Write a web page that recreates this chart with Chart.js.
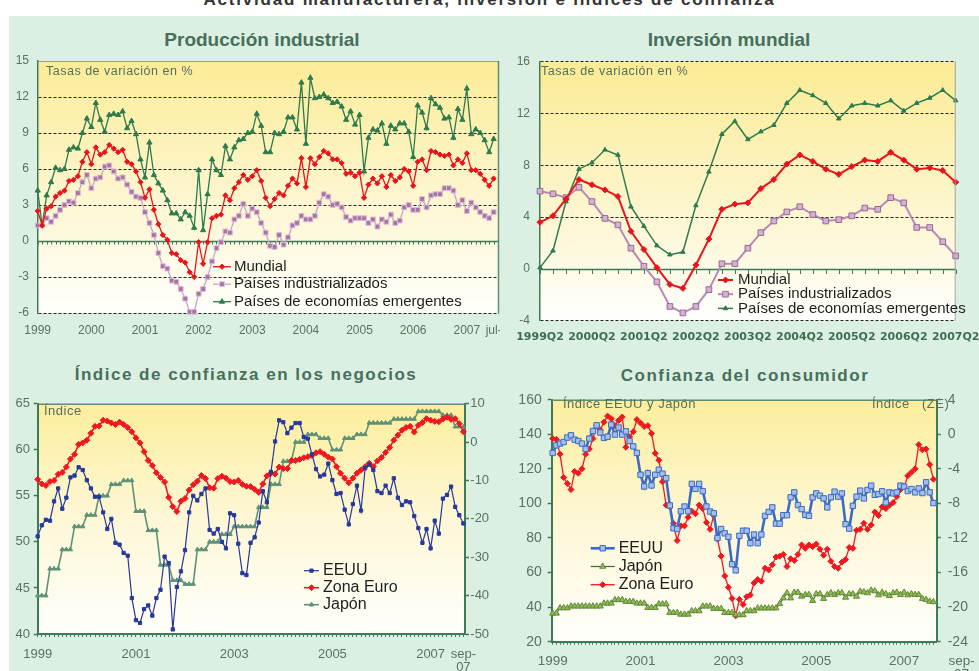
<!DOCTYPE html>
<html lang="es">
<head>
<meta charset="utf-8">
<title>Actividad manufacturera, inversión e índices de confianza</title>
<script src="https://cdn.jsdelivr.net/npm/chart.js@4.4.1/dist/chart.umd.min.js"></script>
<style>
  html, body { margin: 0; padding: 0; background: #fff; }
  #page { position: relative; width: 979px; height: 671px; overflow: hidden; background: #fff; font-family: "Liberation Sans", Arial, sans-serif; }
  #band { position: absolute; left: 9px; top: 16px; width: 970px; height: 655px; background: #dcefe3; }
  canvas { position: absolute; }
  .txt { position: absolute; white-space: pre; }
  .main { top: -9px; left: 0; width: 979px; text-align: center; font: bold 17px/17px "Liberation Sans", Arial, sans-serif; letter-spacing: 1.8px; color: #333; }
  .ttl { color: #46705a; font-weight: bold; transform: translateX(-50%); }
  .top { top: 30px; font: bold 19px/20px "Liberation Sans", Arial, sans-serif; }
  .bot { font: bold 17px/20px "Liberation Sans", Arial, sans-serif; letter-spacing: 1.5px; }
  .note { color: #55705f; font-size: 12.5px; line-height: 14px; letter-spacing: 0.5px; }
</style>
</head>
<body>
<div id="page">
  <div id="band"></div>
  <div class="txt main">Actividad manufacturera, inversión e índices de confianza</div>
  <div class="txt ttl top" style="left:262px">Producción industrial</div>
  <div class="txt ttl top" style="left:729px">Inversión mundial</div>
  <div class="txt ttl bot" style="left:246px;top:365px">Índice de confianza en los negocios</div>
  <div class="txt ttl bot" style="left:745px;top:366px">Confianza del consumidor</div>

  <canvas id="c1" width="500" height="290" style="left:0;top:55px"></canvas>
  <canvas id="c2" width="479" height="290" style="left:500px;top:55px"></canvas>
  <canvas id="c3" width="500" height="276" style="left:0;top:395px"></canvas>
  <canvas id="c4" width="479" height="282" style="left:500px;top:392px"></canvas>

  <div class="txt note" style="left:46px;top:64px">Tasas de variación en %</div>
  <div class="txt note" style="left:541px;top:64px">Tasas de variación en %</div>
  <div class="txt note" style="left:44px;top:404px;font-size:13px">Índice</div>
  <div class="txt note" style="left:563px;top:397px;font-size:13px">Índice EEUU y Japón</div>
  <div class="txt note" style="left:872px;top:397px;font-size:13px">Índice   (ZE)</div>
</div>
<script>
// ---- Producción industrial (mensual, ene-1999 .. jul-2007) ----
const prodMundial = [2.5,1.3,2.7,2.9,3.7,4.0,4.2,5.0,5.1,5.4,6.6,7.4,
  6.4,7.8,7.2,7.4,8.0,7.7,7.4,7.6,6.6,6.4,5.8,4.9,
  3.6,4.3,2.6,1.4,0.5,0.1,-1.0,-1.1,-1.6,-1.8,-2.6,-3.0,
  -0.1,-1.9,-0.1,1.9,2.1,2.2,3.8,3.4,4.4,4.9,5.5,5.1,
  5.4,5.9,5.0,3.6,2.9,3.5,4.0,3.8,4.6,5.2,4.8,6.9,
  4.5,6.9,6.4,7.0,7.5,7.3,6.8,6.8,6.5,5.6,5.7,5.4,
  5.7,3.6,4.7,5.2,4.8,5.4,4.5,5.5,5.0,5.3,6.0,5.8,
  4.6,6.6,6.8,5.9,7.5,7.4,7.2,7.1,7.2,6.3,6.8,6.5,
  7.3,5.9,5.9,5.6,5.1,4.6,5.2];
const prodIndust = [1.3,1.3,1.9,1.6,2.1,2.6,3.0,3.3,3.2,4.0,4.9,5.5,
  4.4,5.2,5.3,6.2,6.3,5.8,5.2,5.3,4.7,4.1,3.7,3.6,
  2.4,1.5,0.5,-1.0,-2.1,-2.3,-3.3,-3.4,-4.0,-4.8,-5.9,-5.9,
  -4.4,-4.0,-3.0,-1.7,-0.6,-0.1,0.8,0.7,1.8,2.1,3.1,2.1,
  2.7,2.4,1.5,0.7,-0.4,-0.5,0.5,-0.3,0.3,1.3,1.5,2.1,
  1.8,1.8,2.1,3.2,3.9,3.7,3.0,3.1,2.8,2.0,1.7,1.9,
  1.9,1.9,1.5,1.8,1.2,1.8,1.6,2.2,1.5,1.7,2.8,3.0,
  2.6,2.6,3.5,2.8,3.8,3.9,3.9,4.4,4.4,4.2,3.0,3.4,
  2.5,3.2,2.8,2.4,2.1,1.9,2.4];
const prodEmerg = [4.2,1.3,3.8,4.9,6.1,5.9,6.0,7.6,7.8,7.7,9.0,10.2,
  9.5,11.5,10.1,9.1,10.5,10.6,10.5,10.8,9.4,10.0,8.9,6.8,
  5.3,8.2,5.5,4.8,4.2,3.4,2.3,2.3,1.8,2.4,2.1,1.1,
  5.9,0.9,3.9,6.8,5.9,5.5,7.9,6.8,7.8,8.4,8.5,9.0,
  9.1,10.6,9.6,7.4,7.4,9.0,8.9,9.1,10.3,10.3,9.3,13.2,
  8.1,13.6,11.9,12.0,12.2,11.9,11.5,11.6,11.2,10.1,10.8,9.7,
  10.5,5.8,8.6,9.3,9.2,9.8,8.1,9.6,9.3,9.8,9.8,9.1,
  7.0,11.3,10.7,9.4,11.9,11.4,11.1,10.2,10.3,8.6,11.0,10.1,
  12.7,8.9,9.3,9.0,8.4,7.4,8.5];
const prodXTicks = [0,12,24,36,48,60,72,84,96,102];
const prodXLabels = ['1999','2000','2001','2002','2003','2004','2005','2006','2007','jul-'];
const prodYTicks = [-6,-3,0,3,6,9,12,15];

// ---- Inversión mundial (trimestral, 1999Q2 .. 2007Q2) ----
const invMundial = [3.6,4.1,5.4,6.9,6.5,6.1,5.6,2.9,1.5,0.1,-1.2,-1.5,0.3,2.3,4.6,5.0,5.1,6.2,6.9,8.1,8.8,8.3,7.7,7.3,7.9,8.4,8.3,9.0,8.4,7.7,7.8,7.6,6.7];
const invIndust = [6.0,5.8,5.5,6.3,5.2,3.9,3.4,1.6,0.2,-1.0,-2.9,-3.4,-2.9,-1.6,0.4,0.4,1.6,2.8,3.7,4.4,4.8,4.2,3.7,3.8,4.1,4.7,4.6,5.5,5.1,3.2,3.2,2.1,1.0];
const invEmerg = [0.1,1.4,5.2,7.7,8.2,9.2,8.8,4.8,3.3,1.8,1.1,1.3,4.9,7.5,10.4,11.4,10.0,10.6,11.1,12.8,13.8,13.4,12.8,11.6,12.6,12.8,12.6,13.0,12.2,12.8,13.2,13.8,13.0];
const invXTicks = [0,4,8,12,16,20,24,28,32];
const invXLabels = ['1999Q2','2000Q2','2001Q2','2002Q2','2003Q2','2004Q2','2005Q2','2006Q2','2007Q2'];
const invYTicks = [-4,0,4,8,12,16];

// ---- Confianza en los negocios (mensual, ene-1999 .. sep-2007) ----
const negEEUU = [50.6,51.8,52.4,52.3,54.4,55.8,53.6,54.8,57.0,57.2,58.1,57.8,
  56.7,55.8,54.9,54.9,53.2,51.4,52.5,49.9,49.7,48.8,48.5,43.9,
  41.5,41.2,42.7,43.1,42.0,43.9,44.8,48.4,47.7,40.5,45.1,46.8,
  49.1,53.2,55.0,54.5,55.2,55.8,51.3,50.9,51.4,50.0,49.3,53.1,
  52.9,49.8,46.6,46.4,49.9,50.5,52.1,55.5,54.3,57.6,60.9,63.2,
  63.0,61.8,62.4,62.9,62.9,61.4,61.2,59.5,57.9,57.1,57.3,58.5,
  56.7,55.2,55.3,53.5,51.9,54.1,56.1,53.4,58.0,58.4,57.8,55.5,
  55.3,56.1,55.3,56.9,54.8,54.0,54.4,54.3,52.8,51.5,49.9,51.4,
  49.3,52.3,50.9,54.7,55.1,56.0,53.8,52.9,52.0];
const negEuro = [-9.7,-10.9,-11.3,-10.3,-10.0,-8.4,-7.9,-6.5,-4.4,-3.2,-0.6,-0.2,
  0.5,2.3,4.1,4.2,5.7,5.5,5.0,4.6,5.2,4.6,3.8,2.7,
  1.1,-0.2,-2.5,-4.8,-6.1,-8.0,-9.2,-10.4,-14.4,-16.8,-18.1,-15.4,
  -14.7,-12.5,-11.1,-10.2,-8.7,-9.5,-11.9,-12.0,-9.5,-8.9,-9.4,-10.3,
  -10.4,-10.0,-11.0,-11.5,-11.6,-12.3,-13.1,-10.9,-8.8,-8.1,-8.3,-6.5,
  -6.9,-6.9,-4.8,-4.8,-4.5,-4.1,-3.8,-3.5,-2.8,-2.5,-3.2,-3.9,
  -4.4,-6.4,-8.1,-9.4,-10.6,-9.4,-8.1,-7.3,-6.4,-5.5,-6.4,-4.9,
  -4.0,-2.7,-1.4,0.5,1.8,3.1,3.8,4.1,2.6,4.4,5.1,6.1,
  5.7,5.4,5.3,6.0,6.5,5.9,6.1,4.8,2.7];
const negJapon = [-40,-40,-40,-33,-33,-33,-28,-28,-28,-22,-22,-22,
  -19,-19,-19,-14,-14,-14,-11,-11,-11,-10,-10,-10,
  -18,-18,-18,-23,-23,-23,-32,-32,-32,-36,-36,-36,
  -37,-37,-37,-28,-28,-28,-26,-26,-26,-24,-24,-24,
  -22,-22,-22,-22,-22,-22,-17,-17,-17,-11,-11,-11,
  -5,-5,-5,0,0,0,2,2,2,1,1,1,
  -2,-2,-2,1,1,1,2,2,2,5,5,5,
  5,5,5,6,6,6,6,6,6,8,8,8,
  8,8,8,7,7,7,4,4,4];
const negXTicks = [0,24,48,72,96,104];
const negXLabels = ['1999','2001','2003','2005','2007',['sep-','07']];
const negYTicks = [40,45,50,55,60,65];
const negY2Ticks = [-50,-40,-30,-20,-10,0,10];

// ---- Confianza del consumidor (mensual, ene-1999 .. sep-2007) ----
const consEEUU = [129.2,133.6,134.6,135.5,138.1,139.4,136.9,136.1,134.6,131.5,137.5,141.9,
  145.2,141.0,137.9,138.6,145.6,139.8,143.9,139.8,141.7,136.1,133.0,129.2,
  116.6,109.8,117.5,110.4,116.6,119.5,117.2,114.6,98.8,85.6,85.2,95.5,
  98.2,95.5,111.3,108.4,111.3,107.1,98.2,95.3,94.3,80.0,85.2,82.7,
  80.7,64.8,61.3,81.3,84.2,84.2,77.0,82.0,77.0,82.0,92.8,95.1,
  97.7,88.3,88.3,93.2,93.2,103.5,106.4,99.0,96.7,93.4,92.8,103.5,
  105.8,104.5,102.9,97.7,103.5,106.8,103.9,105.8,88.0,85.4,98.6,103.9,
  107.4,102.9,107.8,110.3,105.0,105.4,107.0,100.6,106.4,105.8,106.4,110.3,
  109.7,107.2,108.3,106.4,108.7,106.0,112.2,106.4,100.2];
const consJapon = [36.4,36.4,39.5,39.5,39.5,40.5,40.5,40.5,40.5,40.5,40.5,40.5,
  40.5,40.5,42.2,42.2,42.2,44.2,44.2,44.2,43.2,43.2,43.2,42.2,
  42.2,42.2,39.7,39.7,39.7,41.8,41.8,41.8,36.8,36.8,36.8,35.8,
  35.8,35.8,37.8,37.8,37.8,40.5,40.5,40.5,39.1,39.1,39.1,36.8,
  36.8,36.8,35.5,35.5,35.5,37.8,37.8,37.8,39.4,39.4,39.4,39.4,
  39.4,39.4,41.9,45.2,48.2,45.2,48.5,48.5,46.2,47.2,47.2,43.7,
  47.6,47.6,44.9,47.2,48.2,47.2,48.2,48.2,45.6,47.6,47.6,46.2,
  49.1,48.7,48.2,49.7,49.3,47.0,48.5,47.6,46.6,48.2,48.5,47.2,
  48.5,47.0,47.6,47.2,47.2,44.9,44.3,43.3,43.0];
const consEuro = [-0.5,-0.6,-2.3,-5.0,-5.7,-6.4,-4.3,-4.5,-4.0,-2.3,-1.7,-0.5,
  1.0,0.5,1.4,2.1,1.8,1.0,1.6,2.0,-1.5,-0.3,0.3,1.7,
  1.3,0.9,1.0,0.1,-2.2,-3.0,-5.5,-8.2,-8.4,-10.3,-12.3,-10.6,
  -10.6,-9.6,-8.9,-9.2,-8.2,-8.6,-10.2,-11.0,-9.4,-12.1,-14.1,-16.4,
  -17.7,-19.0,-21.0,-19.1,-19.7,-18.8,-18.6,-17.2,-16.8,-17.0,-15.5,-15.7,
  -15.1,-14.2,-14.1,-13.9,-15.3,-14.4,-14.6,-13.9,-12.8,-13.2,-12.8,-13.0,
  -12.7,-13.3,-14.0,-13.3,-14.7,-15.3,-15.5,-14.8,-14.5,-13.1,-13.2,-11.1,
  -11.0,-10.3,-11.0,-10.5,-9.0,-9.4,-8.4,-8.6,-8.2,-7.9,-7.2,-6.4,
  -6.1,-4.8,-4.4,-4.0,-1.2,-1.8,-1.7,-3.5,-5.2];
const consXTicks = [0,24,48,72,96,104];
// the last label sits right of its tick in the original, hence the leading spaces
const consXLabels = ['1999','2001','2003','2005','2007',['               sep-','               07']];
const consYTicks = [20,40,60,80,100,120,140,160];
const consY2Ticks = [-24,-20,-16,-12,-8,-4,0,4];

const GREEN_AXIS = '#3f7a56';
const TICK_COLOR = '#56745f';
Chart.defaults.font.family = '"Liberation Sans", Arial, sans-serif';

// yellow-to-white fill of the plot area
const plotBg = {
  id: 'plotBg',
  beforeDraw(chart, args, o) {
    if (!o.stops) return;
    const { ctx, chartArea: c } = chart;
    const g = ctx.createLinearGradient(0, c.top, 0, c.bottom);
    o.stops.forEach(s => g.addColorStop(s[0], s[1]));
    ctx.save();
    ctx.fillStyle = g;
    ctx.fillRect(c.left, c.top, c.right - c.left, c.bottom - c.top);
    ctx.restore();
  }
};

// solid zero line with small ticks hanging under it
const zeroLine = {
  id: 'zeroLine',
  beforeDatasetsDraw(chart, args, o) {
    if (!o.color) return;
    const { ctx, chartArea: c, scales } = chart;
    const y = Math.round(scales.y.getPixelForValue(0)) + 0.5;
    ctx.save();
    ctx.strokeStyle = o.color;
    ctx.lineWidth = o.width;
    ctx.beginPath();
    ctx.moveTo(c.left, y);
    ctx.lineTo(c.right, y);
    ctx.stroke();
    ctx.lineWidth = 1;
    ctx.beginPath();
    for (let i = 0; i <= o.count; i++) {
      const x = Math.round(scales.x.getPixelForValue(i)) + 0.5;
      ctx.moveTo(x, y);
      ctx.lineTo(x, y + o.tick);
    }
    ctx.stroke();
    ctx.restore();
  }
};

// edges of the plot area that no axis draws
const frame = {
  id: 'frame',
  afterDatasetsDraw(chart, args, o) {
    const { ctx, chartArea: c } = chart;
    ctx.save();
    if (o.right) {
      ctx.strokeStyle = o.right; ctx.lineWidth = o.rightWidth || 1;
      ctx.beginPath(); ctx.moveTo(c.right - 0.5, c.top); ctx.lineTo(c.right - 0.5, c.bottom); ctx.stroke();
    }
    if (o.top) {
      ctx.strokeStyle = o.top; ctx.lineWidth = o.topWidth || 1;
      ctx.beginPath(); ctx.moveTo(c.left, c.top + 0.5); ctx.lineTo(c.right, c.top + 0.5); ctx.stroke();
    }
    ctx.restore();
  }
};

// legend drawn inside the plot: line + marker + label
const inLegend = {
  id: 'inLegend',
  afterDraw(chart, args, o) {
    if (o.x === undefined) return;
    const ctx = chart.ctx;
    ctx.save();
    chart.data.datasets.forEach((ds, i) => {
      const y = o.y + i * o.dy;
      ctx.setLineDash([]);
      ctx.strokeStyle = ds.borderColor;
      ctx.lineWidth = ds.borderWidth;
      ctx.beginPath(); ctx.moveTo(o.x, y); ctx.lineTo(o.x + o.len, y); ctx.stroke();
      ctx.fillStyle = ds.pointBackgroundColor;
      ctx.strokeStyle = ds.pointBorderColor;
      ctx.lineWidth = ds.pointBorderWidth;
      Chart.helpers.drawPoint(ctx, { pointStyle: ds.pointStyle, radius: ds.pointRadius, rotation: 0, borderWidth: ds.pointBorderWidth }, o.x + o.len / 2, y);
      ctx.fillStyle = '#1e1e1e';
      ctx.font = o.font;
      ctx.textBaseline = 'middle';
      ctx.textAlign = 'left';
      ctx.fillText(ds.label, o.x + o.len + o.gap, y);
    });
    ctx.restore();
  }
};

Chart.register(plotBg, zeroLine, frame, inLegend);

function series(label, values, color, style, radius, extra) {
  return Object.assign({
    label: label,
    data: values.map((v, i) => ({ x: i, y: v })),
    borderColor: color,
    backgroundColor: color,
    borderWidth: 1.3,
    pointStyle: style,
    pointRadius: radius,
    pointBorderWidth: 1,
    pointBackgroundColor: color,
    pointBorderColor: color,
    tension: 0,
    clip: 6
  }, extra || {});
}

function fixW(w) { return s => { s.width = w; s.paddingTop = 0; s.paddingBottom = 0; }; }
function fixH(h) { return s => { s.height = h; s.paddingLeft = 0; s.paddingRight = 0; }; }
function setTicks(list) { return s => { s.ticks = list.map(v => ({ value: v })); }; }
function labelFrom(pos, labels) { return v => { const k = pos.indexOf(v); return k < 0 ? '' : labels[k]; }; }
function everyStep(n) { const out = []; for (let i = 0; i <= n; i++) out.push(i); return out; }

const baseOpts = { responsive: false, animation: false, events: [] };
const yellow = [[0, '#fcec97'], [0.55, '#fdf6d0'], [1, '#fffffb']];

// ---------- 1. Producción industrial ----------
new Chart(document.getElementById('c1'), {
  type: 'line',
  data: {
    datasets: [
      series('Mundial', prodMundial, '#e8141c', 'rectRot', 2.6),
      series('Países industrializados', prodIndust, '#c9a3c9', 'rect', 3.4, { pointBackgroundColor: '#a8749f', pointBorderColor: '#dcc0dc' }),
      series('Países de economías emergentes', prodEmerg, '#2e7b4e', 'triangle', 3)
    ]
  },
  options: Object.assign({}, baseOpts, {
    layout: { autoPadding: false, padding: { left: 0, right: 1, top: 6, bottom: 0 } },
    plugins: {
      legend: { display: false }, tooltip: { enabled: false },
      plotBg: { stops: yellow },
      zeroLine: { color: GREEN_AXIS, width: 1.5, count: 103, tick: 3 },
      frame: { right: '#5f8f70', rightWidth: 1.5 },
      inLegend: { x: 213, y: 211.7, dy: 17.5, len: 18, gap: 3, font: '15px "Liberation Sans", Arial' }
    },
    scales: {
      x: {
        type: 'linear', min: 0, max: 103.2,
        grid: { display: false, drawTicks: false }, border: { display: false },
        afterBuildTicks: setTicks(prodXTicks),
        ticks: { autoSkip: false, maxRotation: 0, padding: 10.8, color: TICK_COLOR, font: { size: 12 }, callback: labelFrom(prodXTicks, prodXLabels) },
        afterFit: fixH(32)
      },
      y: {
        min: -6, max: 15,
        afterBuildTicks: setTicks(prodYTicks),
        grid: { drawTicks: false, lineWidth: 1, color: c => c.tick && c.tick.value === 0 ? 'rgba(0,0,0,0)' : (c.tick && c.tick.value === 15 ? '#9a9a9a' : '#222') },
        border: { color: GREEN_AXIS, width: 1.5, dash: c => (c.tick && c.tick.value === 15) ? [] : [3, 2] },
        ticks: { padding: 8.7, color: TICK_COLOR, font: { size: 12 } },
        afterFit: fixW(37.7)
      }
    }
  })
});

// ---------- 2. Inversión mundial ----------
new Chart(document.getElementById('c2'), {
  type: 'line',
  data: {
    datasets: [
      series('Mundial', invMundial, '#e8141c', 'rectRot', 3, { borderWidth: 2 }),
      series('Países industrializados', invIndust, '#b98ab5', 'rect', 4, { borderWidth: 2, pointBackgroundColor: '#d2b2d2', pointBorderColor: '#9a6a96' }),
      series('Países de economías emergentes', invEmerg, '#2e7b4e', 'triangle', 2.6, { borderWidth: 1.5 })
    ]
  },
  options: Object.assign({}, baseOpts, {
    layout: { autoPadding: false, padding: { left: 0, right: 23.3, top: 6.7, bottom: 0 } },
    plugins: {
      legend: { display: false }, tooltip: { enabled: false },
      plotBg: { stops: [[0, '#fbeb93'], [0.7, '#fdf8dc'], [1, '#fffffd']] },
      zeroLine: { color: GREEN_AXIS, width: 1.5, count: 32, tick: 4.5 },
      frame: { right: '#a0a0a0' },
      inLegend: { x: 218, y: 225, dy: 14.2, len: 15, gap: 5, font: '15px "Liberation Sans", Arial' }
    },
    scales: {
      x: {
        type: 'linear', min: 0, max: 32,
        grid: { display: false, drawTicks: false }, border: { display: false },
        afterBuildTicks: setTicks(invXTicks),
        ticks: { autoSkip: false, maxRotation: 0, padding: 10, color: '#3f6e52', font: { size: 11, weight: 'bold', family: '"DejaVu Sans", sans-serif' }, callback: labelFrom(invXTicks, invXLabels) },
        afterFit: fixH(24.3)
      },
      y: {
        min: -4, max: 16,
        afterBuildTicks: setTicks(invYTicks),
        grid: { drawTicks: false, lineWidth: 1, color: c => c.tick && c.tick.value === 0 ? 'rgba(0,0,0,0)' : '#222' },
        border: { color: GREEN_AXIS, width: 1.5, dash: [3, 2] },
        ticks: { padding: 10, color: TICK_COLOR, font: { size: 12 } },
        afterFit: fixW(40)
      }
    }
  })
});

// shared bottom axis for the two confidence charts
function monthAxis(min, max, pos, labels, fontSize, pad, lh, height) {
  return {
    type: 'linear', min: min, max: max,
    afterBuildTicks: setTicks(everyStep(104)),
    grid: { drawOnChartArea: false, drawTicks: true, tickLength: 3, tickColor: GREEN_AXIS, tickWidth: 1 },
    border: { color: GREEN_AXIS, width: 2 },
    ticks: { autoSkip: false, maxRotation: 0, padding: pad, color: TICK_COLOR, font: { size: fontSize, lineHeight: lh }, callback: labelFrom(pos, labels) },
    afterFit: fixH(height)
  };
}
function sideAxis(pos, min, max, list, fontSize, pad, width) {
  return {
    position: pos, min: min, max: max,
    afterBuildTicks: setTicks(list),
    grid: { drawOnChartArea: false, drawTicks: true, tickLength: 4, tickColor: GREEN_AXIS, tickWidth: 1.5 },
    border: { color: GREEN_AXIS, width: 2 },
    ticks: { padding: pad, color: TICK_COLOR, font: { size: fontSize } },
    afterFit: fixW(width)
  };
}

// ---------- 3. Índice de confianza en los negocios ----------
new Chart(document.getElementById('c3'), {
  type: 'line',
  data: {
    datasets: [
      series('EEUU', negEEUU, '#27389c', 'rect', 2.3, { borderWidth: 1.2, yAxisID: 'y' }),
      series('Zona Euro', negEuro, '#f01820', 'rectRot', 3, { borderWidth: 1.6, yAxisID: 'y2' }),
      series('Japón', negJapon, '#5e9278', 'triangle', 2.5, { borderWidth: 1.6, yAxisID: 'y2' })
    ]
  },
  options: Object.assign({}, baseOpts, {
    layout: { autoPadding: false, padding: { left: 0, right: 0, top: 8.7, bottom: 0 } },
    plugins: {
      legend: { display: false }, tooltip: { enabled: false },
      plotBg: { stops: [[0, '#fcee9c'], [0.5, '#fdf7d6'], [1, '#fffffb']] },
      frame: { top: '#5f8f70', topWidth: 1.5 },
      inLegend: { x: 304, y: 175.7, dy: 17, len: 15, gap: 4, font: '16px "Liberation Sans", Arial' }
    },
    scales: {
      x: monthAxis(0, 104.4, negXTicks, negXLabels, 13, 10.2, 1.05, 37),
      y: sideAxis('left', 40, 65, negYTicks, 13, 3.7, 37.7),
      y2: sideAxis('right', -50, 10, negY2Ticks, 13, 1.3, 35)
    }
  })
});

// ---------- 4. Confianza del consumidor ----------
new Chart(document.getElementById('c4'), {
  type: 'line',
  data: {
    datasets: [
      series('EEUU', consEEUU, '#3a6ac4', 'rect', 3.8, { borderWidth: 2.6, yAxisID: 'y', pointBackgroundColor: '#a4bfea', pointBorderColor: '#3a6ac4' }),
      series('Japón', consJapon, '#3a6b3a', 'triangle', 3.5, { borderWidth: 1.2, yAxisID: 'y', pointBackgroundColor: '#94b94e', pointBorderColor: '#5d8a3c' }),
      series('Zona Euro', consEuro, '#f01820', 'rectRot', 3, { borderWidth: 1.3, yAxisID: 'y2' })
    ]
  },
  options: Object.assign({}, baseOpts, {
    layout: { autoPadding: false, padding: { left: 0, right: 0, top: 7.7, bottom: 0 } },
    plugins: {
      legend: { display: false }, tooltip: { enabled: false },
      plotBg: { stops: [[0, '#fcee9c'], [0.5, '#fdf7d6'], [1, '#fffffb']] },
      frame: { top: '#5f8f70', topWidth: 1.5 },
      inLegend: { x: 90.7, y: 156.3, dy: 18.2, len: 24, gap: 4, font: '16px "Liberation Sans", Arial' }
    },
    scales: {
      x: monthAxis(-0.27, 104.9, consXTicks, consXLabels, 13.5, 10.6, 0.95, 32.3),
      y: sideAxis('left', 20, 160, consYTicks, 14, 6, 51.7),
      y2: sideAxis('right', -24, 4, consY2Ticks, 14, 7, 42.3)
    }
  })
});
</script>
</body>
</html>
